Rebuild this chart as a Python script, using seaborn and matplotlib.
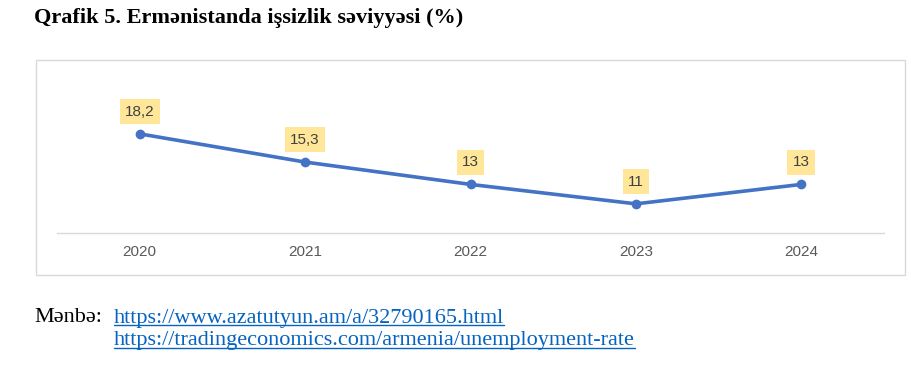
import matplotlib
matplotlib.use("Agg")
import matplotlib.pyplot as plt
import seaborn as sns
import pandas as pd
from matplotlib.patches import Rectangle
from matplotlib.lines import Line2D

years = ["2020", "2021", "2022", "2023", "2024"]
values = [18.2, 15.3, 13, 11, 13]
labels = ["18,2", "15,3", "13", "11", "13"]
title = "Qrafik 5. Ermənistanda işsizlik səviyyəsi (%)"
source_label = "Mənbə:"
links = ["https://www.azatutyun.am/a/32790165.html",
         "https://tradingeconomics.com/armenia/unemployment-rate"]

sns.set_theme(style="white")
plt.rcParams['font.family'] = ['Liberation Sans', 'DejaVu Sans']

W, H = 911, 367
fig = plt.figure(figsize=(W / 100, H / 100), dpi=100)

def fx(px):
    return px / W

def fy(py):
    return 1 - py / H

# chart border
fig.patches.append(Rectangle((fx(36), fy(275)), fx(905) - fx(36), fy(60) - fy(275),
                             transform=fig.transFigure, fill=False,
                             edgecolor="#D9D9D9", linewidth=1.0))

ax = fig.add_axes([fx(57), fy(233), fx(884) - fx(57), fy(77.5) - fy(233)])
df = pd.DataFrame({"x": range(len(years)), "y": values})
sns.lineplot(data=df, x="x", y="y", ax=ax, color="#4472C4", linewidth=2.6,
             marker="o", markersize=7, markeredgewidth=0)
ax.set_xlim(-0.5, len(years) - 0.5)
ax.set_ylim(8, 24)
ax.set_xticks(range(len(years)))
ax.set_xticklabels(years, color="#595959", fontsize=11)
ax.tick_params(axis="x", length=0, pad=9)
ax.set_yticks([])
ax.set_xlabel("")
ax.set_ylabel("")
for s in ["top", "left", "right"]:
    ax.spines[s].set_visible(False)
ax.spines["bottom"].set_color("#D9D9D9")
ax.spines["bottom"].set_linewidth(1.0)
ax.set_facecolor("none")

for i, (v, lab) in enumerate(zip(values, labels)):
    ax.annotate(lab, (i, v), xytext=(0, 16), textcoords="offset points",
                ha="center", va="center", fontsize=11, color="#404040",
                bbox=dict(boxstyle="square,pad=0.35", facecolor="#FFE699",
                          edgecolor="none"))

fig.text(fx(34), fy(18), title, fontsize=16, fontweight="bold",
         family=["Liberation Serif", "DejaVu Serif"], color="#000000",
         ha="left", va="center")

fig.text(fx(34), fy(318), source_label, fontsize=16,
         family=["Liberation Serif", "DejaVu Serif"], color="#000000",
         ha="left", va="center")

link_texts = []
for j, url in enumerate(links):
    t = fig.text(fx(114), fy(318 + 23 * j), url, fontsize=16,
                 family=["Liberation Serif", "DejaVu Serif"], color="#0563C1",
                 ha="left", va="center")
    link_texts.append(t)

fig.canvas.draw()
renderer = fig.canvas.get_renderer()
for t in link_texts:
    bb = t.get_window_extent(renderer)
    yline = bb.y0 + 3
    fig.add_artist(Line2D([bb.x0 / W, bb.x1 / W], [yline / H, yline / H],
                          transform=fig.transFigure, color="#0563C1", linewidth=1.0))

fig.savefig("out.png", dpi=100)
